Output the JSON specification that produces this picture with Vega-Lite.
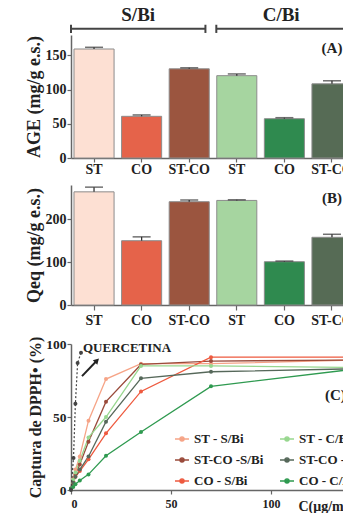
{
  "$schema": "https://vega.github.io/schema/vega-lite/v6.json",
  "padding": {"left": 24, "top": 6, "right": 0, "bottom": 0},
  "spacing": 9,
  "datasets": {
    "bars": [
      {"k": "ST|S", "age": 159.5, "ageHi": 162, "qeq": 264, "qeqHi": 275},
      {"k": "CO|S", "age": 61, "ageHi": 63, "qeq": 150, "qeqHi": 159},
      {"k": "ST-CO|S", "age": 130.5, "ageHi": 132, "qeq": 241, "qeqHi": 245},
      {"k": "ST|C", "age": 120.5, "ageHi": 123, "qeq": 244, "qeqHi": 245.5},
      {"k": "CO|C", "age": 57.5, "ageHi": 59, "qeq": 101, "qeqHi": 102.5},
      {"k": "ST-CO|C", "age": 108.5, "ageHi": 113, "qeq": 158, "qeqHi": 165}
    ],
    "brackets": [
      {"g": "S/Bi", "a": 0, "b": 2.84, "m": 1.42},
      {"g": "C/Bi", "a": 3.07, "b": 6.5, "m": 4.44}
    ],
    "dpph": [
      {"s": "ST - S/Bi", "c": 0, "v": 1}, {"s": "ST - S/Bi", "c": 1.1, "v": 8}, {"s": "ST - S/Bi", "c": 2.2, "v": 14}, {"s": "ST - S/Bi", "c": 4.4, "v": 23}, {"s": "ST - S/Bi", "c": 8.75, "v": 47.5}, {"s": "ST - S/Bi", "c": 17.5, "v": 76}, {"s": "ST - S/Bi", "c": 35, "v": 86.5}, {"s": "ST - S/Bi", "c": 70, "v": 86.5}, {"s": "ST - S/Bi", "c": 140, "v": 89},
      {"s": "ST-CO -S/Bi", "c": 0, "v": 1}, {"s": "ST-CO -S/Bi", "c": 1.1, "v": 6}, {"s": "ST-CO -S/Bi", "c": 2.2, "v": 11}, {"s": "ST-CO -S/Bi", "c": 4.4, "v": 17.5}, {"s": "ST-CO -S/Bi", "c": 8.75, "v": 33}, {"s": "ST-CO -S/Bi", "c": 17.5, "v": 60.5}, {"s": "ST-CO -S/Bi", "c": 35, "v": 86}, {"s": "ST-CO -S/Bi", "c": 70, "v": 88.3}, {"s": "ST-CO -S/Bi", "c": 140, "v": 89},
      {"s": "CO - S/Bi", "c": 0, "v": 0.5}, {"s": "CO - S/Bi", "c": 1.1, "v": 5}, {"s": "CO - S/Bi", "c": 2.2, "v": 9}, {"s": "CO - S/Bi", "c": 4.4, "v": 13}, {"s": "CO - S/Bi", "c": 8.75, "v": 21}, {"s": "CO - S/Bi", "c": 17.5, "v": 38.8}, {"s": "CO - S/Bi", "c": 35, "v": 67.5}, {"s": "CO - S/Bi", "c": 70, "v": 91}, {"s": "CO - S/Bi", "c": 140, "v": 91},
      {"s": "ST - C/Bi", "c": 0, "v": 1}, {"s": "ST - C/Bi", "c": 1.1, "v": 7}, {"s": "ST - C/Bi", "c": 2.2, "v": 12}, {"s": "ST - C/Bi", "c": 4.4, "v": 20}, {"s": "ST - C/Bi", "c": 8.75, "v": 36}, {"s": "ST - C/Bi", "c": 17.5, "v": 50}, {"s": "ST - C/Bi", "c": 35, "v": 85}, {"s": "ST - C/Bi", "c": 70, "v": 85}, {"s": "ST - C/Bi", "c": 140, "v": 84},
      {"s": "ST-CO -C/Bi", "c": 0, "v": 1}, {"s": "ST-CO -C/Bi", "c": 1.1, "v": 5}, {"s": "ST-CO -C/Bi", "c": 2.2, "v": 9}, {"s": "ST-CO -C/Bi", "c": 4.4, "v": 14}, {"s": "ST-CO -C/Bi", "c": 8.75, "v": 23}, {"s": "ST-CO -C/Bi", "c": 17.5, "v": 46.8}, {"s": "ST-CO -C/Bi", "c": 35, "v": 76.5}, {"s": "ST-CO -C/Bi", "c": 70, "v": 81}, {"s": "ST-CO -C/Bi", "c": 140, "v": 83},
      {"s": "CO - C/Bi", "c": 0, "v": 0.5}, {"s": "CO - C/Bi", "c": 1.1, "v": 2}, {"s": "CO - C/Bi", "c": 2.2, "v": 4}, {"s": "CO - C/Bi", "c": 4.4, "v": 6.5}, {"s": "CO - C/Bi", "c": 8.75, "v": 10.7}, {"s": "CO - C/Bi", "c": 17.5, "v": 23.5}, {"s": "CO - C/Bi", "c": 35, "v": 39.7}, {"s": "CO - C/Bi", "c": 70, "v": 71}, {"s": "CO - C/Bi", "c": 140, "v": 82.5}
    ],
    "querc": [
      {"c": 0, "v": 0}, {"c": 1.25, "v": 22}, {"c": 2.2, "v": 59}, {"c": 3.3, "v": 87}, {"c": 5, "v": 94}
    ],
    "arrow": [{"x1": 5.5, "y1": 78, "x2": 13, "y2": 88.7}]
  },
  "config": {
    "font": "Liberation Serif",
    "view": {"stroke": null},
    "axis": {
      "labelFont": "Liberation Serif", "labelFontWeight": "bold", "labelFontSize": 14, "labelColor": "#222",
      "titleFont": "Liberation Serif", "titleFontWeight": "bold", "titleFontSize": 18, "titleColor": "#222", "titlePadding": 2,
      "domainColor": "#666", "domainWidth": 1.5, "tickColor": "#666", "tickWidth": 1.2, "tickSize": 4, "labelPadding": 1, "grid": false
    },
    "text": {"font": "Liberation Serif", "fontWeight": "bold", "color": "#222"}
  },
  "vconcat": [
    {
      "width": 284, "height": 123,
      "layer": [
        {
          "data": {"name": "bars"},
          "layer": [
            {
              "mark": {"type": "bar", "stroke": "#8c8c8c", "strokeWidth": 1},
              "encoding": {
                "x": {"field": "k", "type": "nominal", "sort": null, "scale": {"paddingInner": 0.158, "paddingOuter": 0.063},
                      "axis": {"title": null, "labelExpr": "split(datum.value,'|')[0]", "labelAngle": 0, "labelFontSize": 14, "labelPadding": 0, "tickSize": 4}},
                "y": {"field": "age", "type": "quantitative", "scale": {"domain": [0, 180], "nice": false}, "axis": {"values": [0, 50, 100, 150], "title": "AGE (mg/g e.s.)"}},
                "fill": {"field": "k", "type": "nominal", "sort": null, "legend": null,
                         "scale": {"domain": ["ST|S", "CO|S", "ST-CO|S", "ST|C", "CO|C", "ST-CO|C"], "range": ["#fde0d3", "#e5634a", "#9b553f", "#a6d5a0", "#2f8a4f", "#566b55"]}}
              }
            },
            {
              "mark": {"type": "rule", "color": "#333", "strokeWidth": 1.3},
              "encoding": {"x": {"field": "k", "type": "nominal", "sort": null}, "y": {"field": "age", "type": "quantitative"}, "y2": {"field": "ageHi"}}
            },
            {
              "mark": {"type": "tick", "color": "#333", "size": 18, "thickness": 1.5, "orient": "horizontal"},
              "encoding": {"x": {"field": "k", "type": "nominal", "sort": null}, "y": {"field": "ageHi", "type": "quantitative"}}
            },
            {
              "data": {"values": [{}]},
              "mark": {"type": "text", "text": "(A)", "fontSize": 15, "align": "center", "baseline": "middle"},
              "encoding": {"x": {"datum": "ST-CO|C", "type": "nominal"}, "y": {"datum": 161, "type": "quantitative"}}
            }
          ]
        },
        {
          "data": {"name": "brackets"},
          "layer": [
            {
              "mark": {"type": "rule", "color": "#444", "strokeWidth": 2},
              "encoding": {"x": {"field": "a", "type": "quantitative", "scale": {"domain": [0, 6], "nice": false}, "axis": null}, "x2": {"field": "b"}, "y": {"datum": 189, "type": "quantitative", "scale": {"domain": [0, 180], "nice": false}}}
            },
            {
              "mark": {"type": "rule", "color": "#444", "strokeWidth": 2},
              "encoding": {"x": {"field": "a", "type": "quantitative"}, "y": {"datum": 183, "type": "quantitative"}, "y2": {"datum": 195}}
            },
            {
              "mark": {"type": "rule", "color": "#444", "strokeWidth": 2},
              "encoding": {"x": {"field": "b", "type": "quantitative"}, "y": {"datum": 183, "type": "quantitative"}, "y2": {"datum": 195}}
            },
            {
              "mark": {"type": "text", "fontSize": 19, "align": "center", "baseline": "middle"},
              "encoding": {"x": {"field": "m", "type": "quantitative"}, "y": {"datum": 209, "type": "quantitative"}, "text": {"field": "g"}}
            }
          ]
        }
      ],
      "resolve": {"scale": {"x": "independent"}}
    },
    {
      "width": 284, "height": 120,
      "data": {"name": "bars"},
      "layer": [
        {
          "mark": {"type": "bar", "stroke": "#8c8c8c", "strokeWidth": 1},
          "encoding": {
            "x": {"field": "k", "type": "nominal", "sort": null, "scale": {"paddingInner": 0.158, "paddingOuter": 0.063},
                  "axis": {"title": null, "labelExpr": "split(datum.value,'|')[0]", "labelAngle": 0, "labelFontSize": 14, "labelPadding": 3, "tickSize": 5}},
            "y": {"field": "qeq", "type": "quantitative", "scale": {"domain": [0, 280], "nice": false}, "axis": {"values": [0, 50, 100, 150, 200, 250], "title": "Qeq (mg/g e.s.)"}},
            "fill": {"field": "k", "type": "nominal", "sort": null, "legend": null}
          }
        },
        {
          "mark": {"type": "rule", "color": "#333", "strokeWidth": 1.3},
          "encoding": {"x": {"field": "k", "type": "nominal", "sort": null}, "y": {"field": "qeq", "type": "quantitative"}, "y2": {"field": "qeqHi"}}
        },
        {
          "mark": {"type": "tick", "color": "#333", "size": 18, "thickness": 1.5, "orient": "horizontal"},
          "encoding": {"x": {"field": "k", "type": "nominal", "sort": null}, "y": {"field": "qeqHi", "type": "quantitative"}}
        },
        {
          "data": {"values": [{}]},
          "mark": {"type": "text", "text": "(B)", "fontSize": 15, "align": "center", "baseline": "middle"},
          "encoding": {"x": {"datum": "ST-CO|C", "type": "nominal"}, "y": {"datum": 250, "type": "quantitative"}}
        }
      ]
    },
    {
      "width": 300, "height": 146,
      "layer": [
        {
          "data": {"name": "dpph"},
          "mark": {"type": "line", "strokeWidth": 1.3, "point": {"filled": true, "size": 16}},
          "encoding": {
            "x": {"field": "c", "type": "quantitative", "scale": {"domain": [0, 150], "nice": false},
                  "axis": {"values": [0, 50, 100], "title": "C(μg/mL)", "titleX": 227, "titleY": 16, "titleAlign": "left", "titleBaseline": "middle", "titleFontSize": 14, "labelPadding": 4, "labelFontSize": 12}},
            "y": {"field": "v", "type": "quantitative", "scale": {"domain": [0, 100], "nice": false}, "axis": {"values": [0, 25, 50, 75, 100], "title": "Captura de DPPH• (%)", "titleFontSize": 16, "labelFontSize": 13.5}},
            "color": {"field": "s", "type": "nominal",
                      "scale": {"domain": ["ST - S/Bi", "ST-CO -S/Bi", "CO - S/Bi", "ST - C/Bi", "ST-CO -C/Bi", "CO - C/Bi"], "range": ["#f6a487", "#9a4b3b", "#ee5a3f", "#98d78f", "#56685a", "#2f9a50"]},
                      "legend": {"orient": "none", "legendX": 103, "legendY": 396, "columns": 2, "columnPadding": 13, "rowPadding": 6, "title": null,
                                 "labelFontSize": 13, "labelFont": "Liberation Serif", "labelFontWeight": "bold", "labelColor": "#222",
                                 "symbolType": "M-1,0H1M-0.3,0A0.3,0.3,0,1,1,0.3,0A0.3,0.3,0,1,1,-0.3,0", "symbolSize": 196, "symbolStrokeWidth": 1.3, "labelOffset": 4, "padding": 0,
                                 "encode": {"symbols": {"update": {"fill": {"scale": "color", "field": "value"}, "stroke": {"scale": "color", "field": "value"}, "opacity": {"value": 1}}}}}}
          }
        },
        {
          "data": {"name": "querc"},
          "mark": {"type": "line", "color": "#444", "strokeWidth": 1.2, "strokeDash": [2, 2], "point": {"filled": true, "size": 16, "color": "#444"}},
          "encoding": {"x": {"field": "c", "type": "quantitative"}, "y": {"field": "v", "type": "quantitative"}}
        },
        {
          "data": {"name": "arrow"},
          "mark": {"type": "rule", "color": "#222", "strokeWidth": 2},
          "encoding": {"x": {"field": "x1", "type": "quantitative"}, "y": {"field": "y1", "type": "quantitative"}, "x2": {"field": "x2"}, "y2": {"field": "y2"}}
        },
        {
          "data": {"name": "arrow"},
          "mark": {"type": "point", "shape": "triangle-up", "angle": 45, "filled": true, "color": "#222", "size": 40, "opacity": 1},
          "encoding": {"x": {"field": "x2", "type": "quantitative"}, "y": {"field": "y2", "type": "quantitative"}}
        },
        {
          "data": {"values": [{}]},
          "mark": {"type": "text", "text": "QUERCETINA", "fontSize": 13, "align": "left", "baseline": "middle"},
          "encoding": {"x": {"datum": 6}, "y": {"datum": 97.5}}
        },
        {
          "data": {"values": [{}]},
          "mark": {"type": "text", "text": "(C)", "fontSize": 15, "align": "left", "baseline": "middle"},
          "encoding": {"x": {"datum": 127}, "y": {"datum": 65}}
        }
      ]
    }
  ]
}
